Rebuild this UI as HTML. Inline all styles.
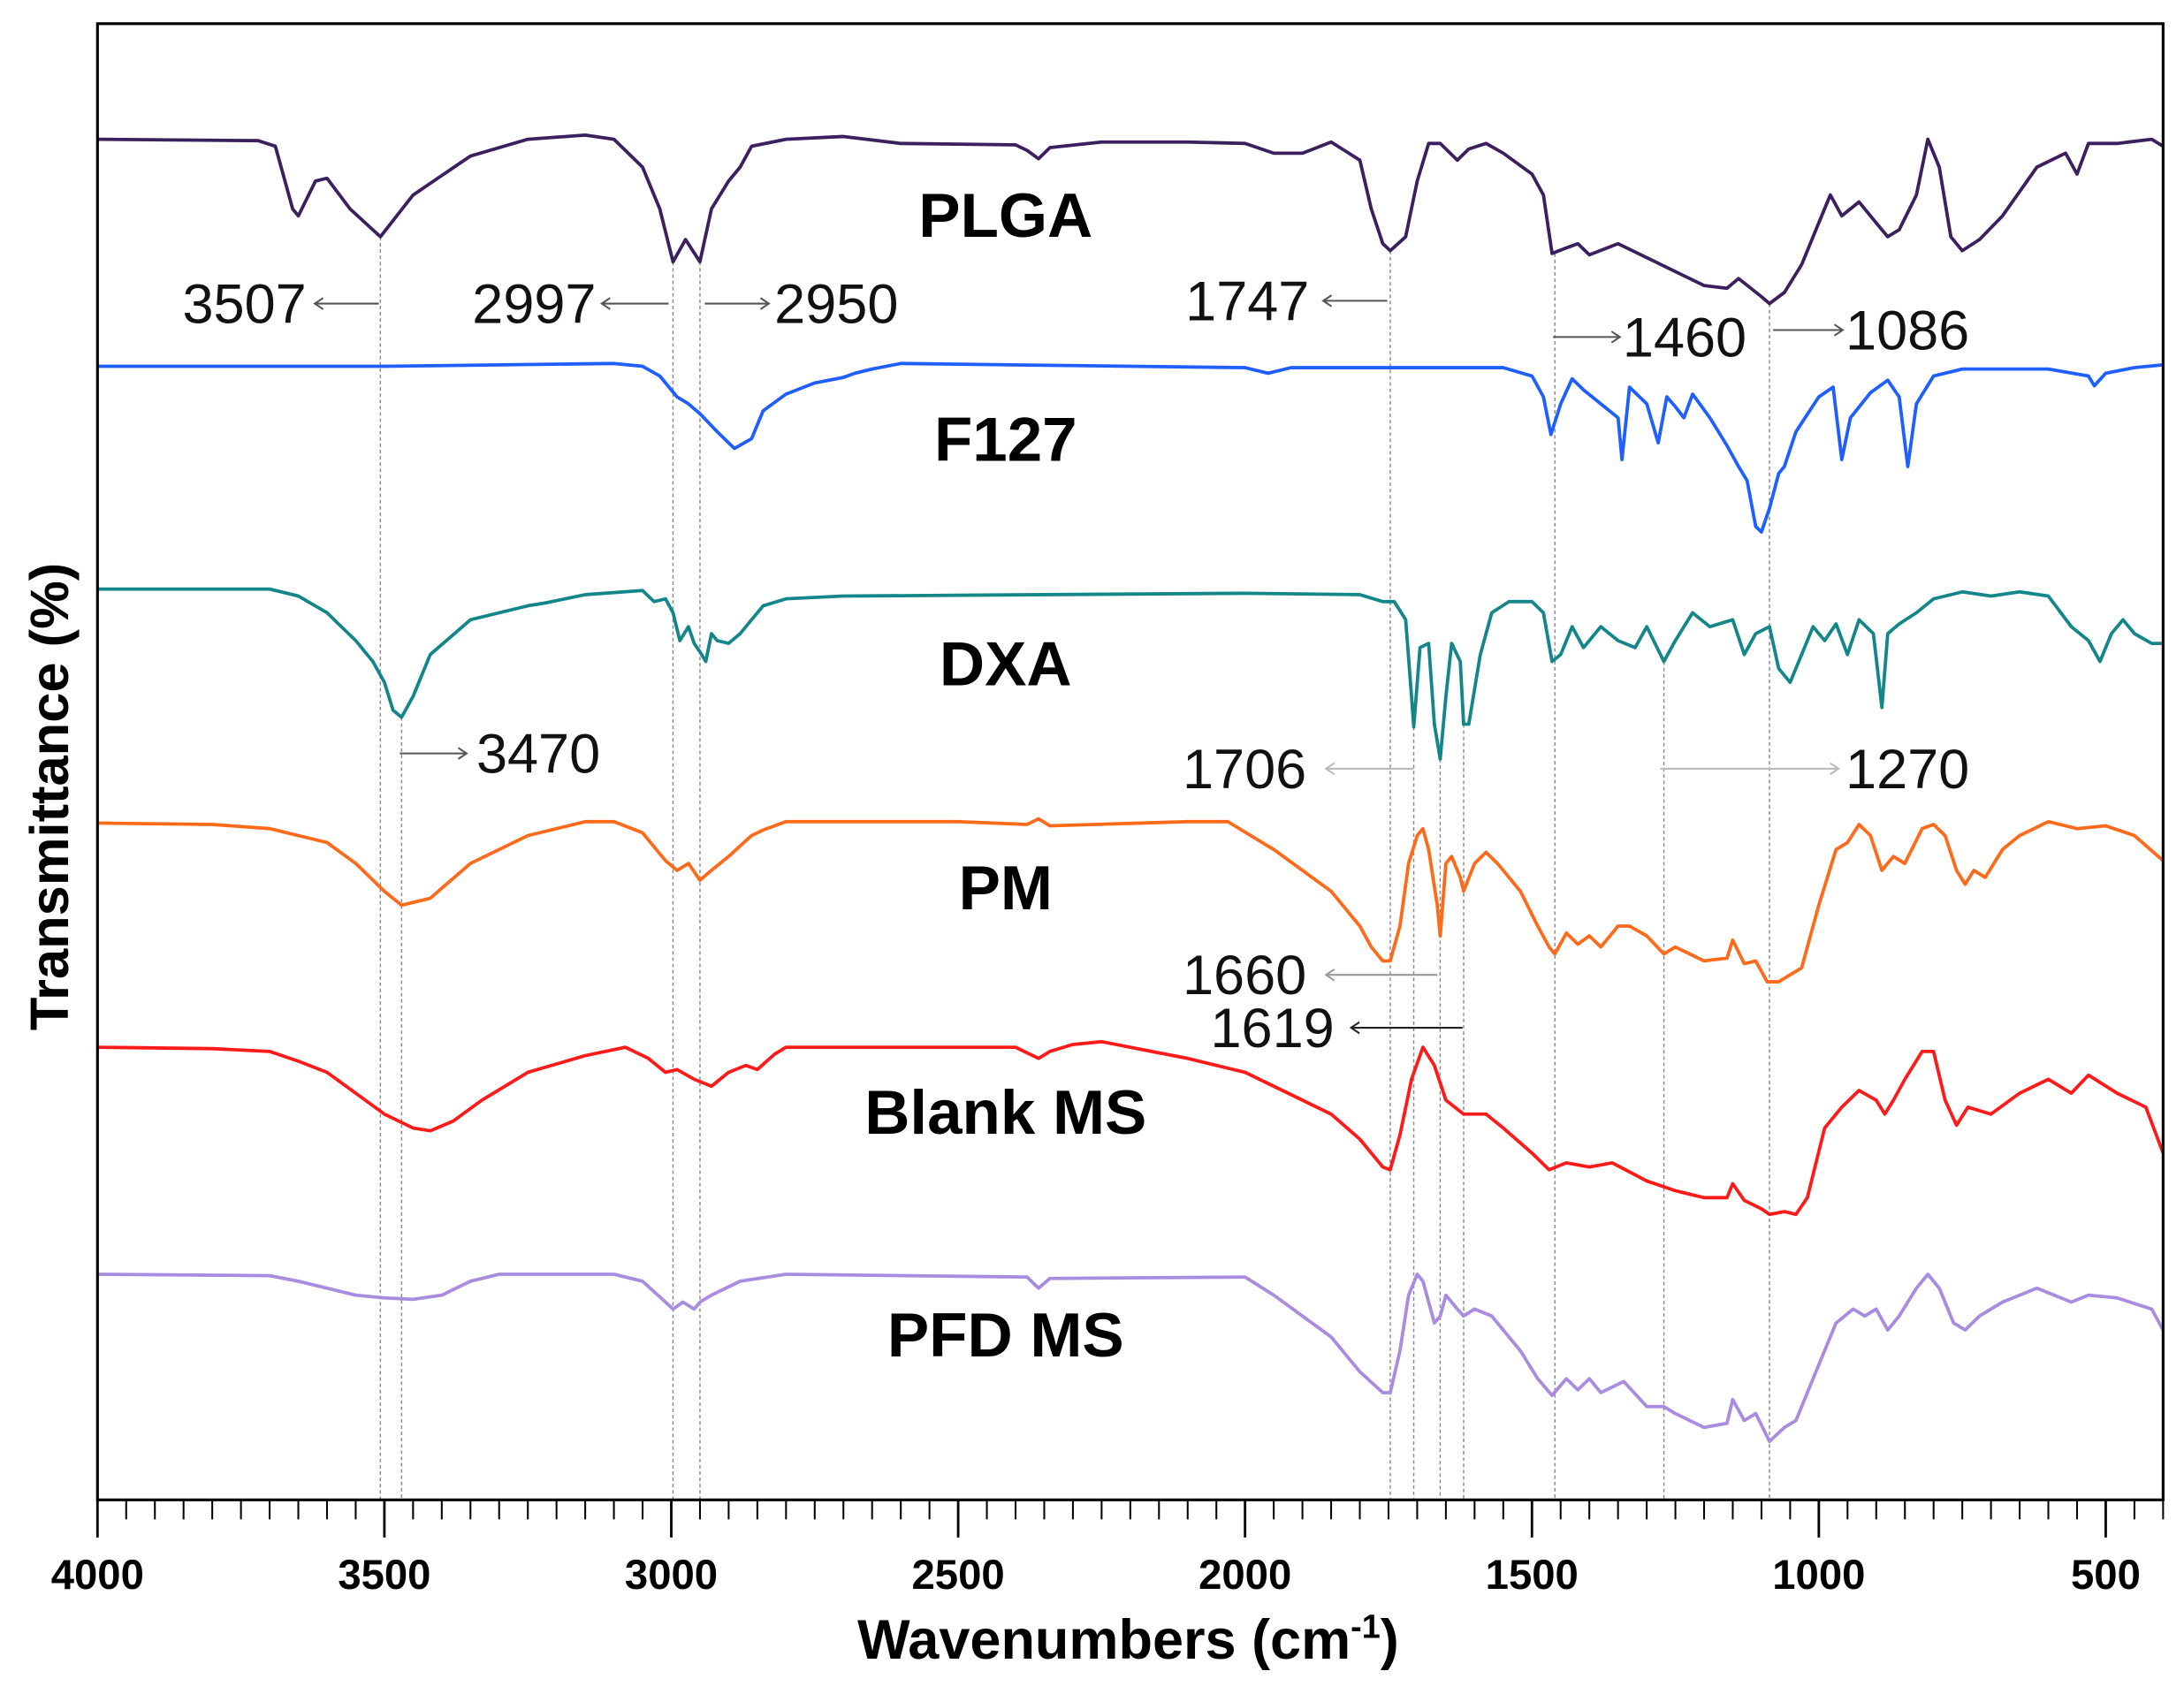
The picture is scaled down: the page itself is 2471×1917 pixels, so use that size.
<!DOCTYPE html>
<html><head><meta charset="utf-8"><style>
html,body{margin:0;padding:0;background:#fff}
svg{display:block}
text{font-family:"Liberation Sans",Arial,sans-serif}
</style></head><body>
<svg id="chart" width="2471" height="1917" viewBox="0 0 1568 1216.4" preserveAspectRatio="none" xmlns="http://www.w3.org/2000/svg">
<g id="marks"></g>
</svg>
<script>
const seriesNames = ["PLGA","F127","DXA","PM","Blank MS","PFD MS"];
const seriesColors = ["#3b1f5e","#1f5fff","#13868a","#ff6a1a","#ff1a1a","#a98be0"];
const plgaWn = [4000,3720,3690,3660,3650,3620,3600,3560,3507,3450,3350,3250,3150,3100,3050,3020,2997,2975,2950,2930,2900,2880,2860,2800,2700,2600,2400,2380,2360,2340,2250,2100,2000,1950,1900,1850,1800,1780,1760,1747,1720,1700,1680,1660,1630,1610,1580,1550,1500,1480,1465,1440,1420,1400,1350,1300,1250,1200,1160,1140,1100,1086,1060,1030,1000,980,960,930,900,880,860,830,810,790,770,750,720,680,620,570,550,530,480,420,400];
const plgaT = [977,976,972,927,922,947,949,927,907,937,965,977,980,977,957,927,889,905,889,927,947,957,972,977,979,974,973,969,963,971,975,975,974,967,967,975,962,927,902,897,907,947,974,974,962,970,974,967,952,937,895,899,902,894,902,892,882,872,870,877,864,859,867,887,917,937,922,932,917,907,912,937,977,957,907,897,905,922,957,967,952,974,974,977,972];
const f127Wn = [4000,3500,3100,3050,3020,2990,2970,2950,2920,2890,2860,2840,2800,2750,2700,2680,2650,2600,2000,1960,1920,1550,1500,1480,1467,1450,1430,1410,1380,1350,1343,1330,1300,1280,1265,1250,1235,1220,1190,1160,1140,1125,1110,1100,1086,1070,1060,1040,1000,975,960,945,910,880,860,845,830,800,750,600,530,520,500,450,400];
const f127T = [814,814,816,814,807,792,787,780,767,755,762,782,794,802,806,809,812,816,813,809,813,813,807,792,765,787,805,797,787,777,747,799,787,759,792,785,777,794,777,757,742,732,699,695,712,737,742,767,792,799,747,777,795,804,792,742,787,807,812,812,807,800,809,813,815];
const dxaWn = [4000,3700,3650,3600,3550,3520,3500,3485,3470,3450,3420,3350,3250,3220,3150,3050,3030,3010,2997,2985,2970,2960,2950,2940,2930,2920,2900,2880,2860,2840,2800,2700,2000,1800,1760,1740,1720,1710,1706,1695,1680,1670,1660,1650,1640,1625,1619,1610,1590,1570,1540,1500,1480,1465,1450,1430,1410,1380,1350,1320,1300,1270,1250,1220,1190,1150,1130,1110,1086,1070,1050,1030,1010,990,970,950,930,905,890,880,860,830,800,750,700,650,600,560,530,510,490,470,450,420,400];
const dxaT = [654,654,649,637,617,602,587,567,562,577,607,632,642,644,650,653,645,647,637,617,627,615,609,602,622,617,615,622,632,642,647,649,651,650,645,645,632,577,555,612,615,557,532,577,615,602,557,557,607,637,645,645,637,602,607,627,612,627,617,612,627,602,617,637,627,632,607,622,627,597,587,607,627,617,629,607,632,622,569,622,629,637,647,652,649,652,649,627,617,602,622,632,622,615,615];
const pmWn = [4000,3800,3700,3650,3600,3550,3500,3470,3420,3350,3250,3150,3100,3050,3010,2990,2970,2950,2930,2900,2860,2840,2800,2500,2380,2360,2340,2100,2030,1950,1850,1800,1780,1760,1747,1730,1715,1700,1690,1680,1665,1660,1650,1640,1625,1619,1600,1580,1560,1520,1490,1470,1460,1440,1420,1400,1380,1350,1330,1300,1270,1250,1200,1160,1150,1130,1110,1090,1070,1050,1030,1000,970,950,930,910,890,870,850,820,800,780,760,745,730,710,680,650,600,550,500,450,400];
const pmT = [486,485,482,477,472,457,437,427,432,457,477,487,487,479,459,452,457,445,452,462,477,481,487,487,485,489,484,487,487,467,437,412,397,387,387,412,457,477,482,467,427,405,457,462,447,437,457,465,457,437,412,397,392,407,399,405,397,412,412,405,392,397,387,389,402,385,387,372,372,377,382,427,467,472,485,477,452,462,457,482,485,477,452,442,452,447,467,477,487,482,484,477,459];
const blankWn = [4000,3800,3700,3650,3600,3550,3500,3450,3420,3380,3330,3250,3150,3080,3040,3010,2990,2960,2930,2900,2870,2850,2820,2800,2400,2360,2340,2300,2250,2100,2000,1900,1850,1800,1760,1747,1730,1710,1690,1670,1650,1619,1580,1550,1500,1470,1440,1400,1360,1300,1250,1200,1160,1150,1130,1100,1086,1060,1040,1020,990,960,930,900,885,870,850,820,800,780,760,740,700,650,600,560,530,480,430,400];
const blankT = [325,324,322,315,307,292,277,267,265,272,287,307,319,325,317,307,309,302,297,307,312,309,320,325,325,317,322,327,329,317,307,287,277,259,239,237,262,302,325,312,287,277,277,267,249,237,242,239,242,229,222,217,217,227,215,209,205,207,205,217,267,282,294,287,277,287,302,322,322,287,269,282,277,292,302,292,305,292,282,249];
const pfdWn = [4000,3700,3650,3600,3550,3500,3450,3400,3350,3300,3100,3050,3010,2997,2980,2960,2950,2930,2880,2800,2380,2360,2340,2000,1950,1850,1800,1760,1747,1730,1715,1700,1690,1670,1660,1650,1630,1619,1600,1570,1520,1490,1465,1440,1420,1400,1380,1340,1300,1270,1250,1200,1160,1150,1130,1110,1086,1060,1040,1000,970,940,920,900,880,860,830,810,790,765,745,720,680,620,560,530,480,420,400];
const pfdT = [162,161,157,152,147,145,144,147,157,162,162,157,142,137,142,137,142,147,157,162,160,152,159,160,147,117,92,77,77,107,147,162,157,127,132,147,137,132,137,132,107,87,75,87,79,87,77,85,67,67,62,52,55,72,57,62,42,52,57,97,127,137,132,137,122,132,152,162,152,127,122,132,142,152,142,147,145,137,122];
const xTickLabels = ["4000","3500","3000","2500","2000","1500","1000","500"];
const markerWn = [3507,3470,2997,2950,1747,1706,1660,1619,1460,1270,1086];
const markerT = [907,562,889,889,897,555,532,557,895,602,859];

const NS="http://www.w3.org/2000/svg";
const L=70,R=1553,T=17,B=1077;
const wMax=4000,wMin=400;
function xs(w){return L+(wMax-w)/(wMax-wMin)*(R-L);}
function ys(v){return B-v/1060*(B-T);}
const g=document.getElementById('marks');
function mk(tag,attrs,parent){const e=document.createElementNS(NS,tag);for(const k in attrs)e.setAttribute(k,attrs[k]);(parent||g).appendChild(e);return e;}

markerWn.forEach((w,i)=>{
  const e=mk('line',{x1:xs(w),x2:xs(w),y1:ys(markerT[i]),y2:B,stroke:'#888','stroke-width':0.9,'stroke-dasharray':'2.5,2'});
  
  
});

const wnArr=[plgaWn,f127Wn,dxaWn,pmWn,blankWn,pfdWn];
const tArr=[plgaT,f127T,dxaT,pmT,blankT,pfdT];
wnArr.forEach((wn,s)=>{
  const d=wn.map((w,i)=>(i?'L':'M')+xs(w).toFixed(1)+','+ys(tArr[s][i]).toFixed(1)).join('');
  const p=mk('path',{d:d,fill:'none',stroke:seriesColors[s],'stroke-width':2.4,'stroke-linejoin':'round'});
  
  
});

const labelY=[170,331,492,653,814,974];
seriesNames.forEach((n,i)=>{
  const t=mk('text',{x:722,y:labelY[i],'text-anchor':'middle','font-size':45,'font-weight':'bold',fill:'#000'});
  t.textContent=n;
  
  
});

const fr=mk('rect',{x:L,y:T,width:R-L,height:B-T,fill:'none',stroke:'#000','stroke-width':2});



for(let w=4000;w>=400;w-=50){
  const major=w%500===0;
  const t=mk('line',{x1:xs(w),x2:xs(w),y1:B,y2:B+(major?27:14),stroke:'#000','stroke-width':major?1.8:1.3});
  
  
}
xTickLabels.forEach(s=>{
  const t=mk('text',{x:xs(+s),y:1141,'text-anchor':'middle','font-size':30,'font-weight':'bold',fill:'#000'});
  t.textContent=s;
  
  
});

const ann=[
 {txt:'3507',x1:272,x2:226,y:218,tx:220,anchor:'end',c:'#555'},
 {txt:'2997',x1:480,x2:432,y:218,tx:428,anchor:'end',c:'#555'},
 {txt:'2950',x1:506,x2:552,y:218,tx:556,anchor:'start',c:'#555'},
 {txt:'1747',x1:996,x2:950,y:216,tx:940,anchor:'end',c:'#555'},
 {txt:'1460',x1:1115,x2:1163,y:242,tx:1165,anchor:'start',c:'#555'},
 {txt:'1086',x1:1273,x2:1323,y:237,tx:1325,anchor:'start',c:'#555'},
 {txt:'3470',x1:287,x2:335,y:541,tx:342,anchor:'start',c:'#555'},
 {txt:'1706',x1:1015,x2:952,y:552,tx:938,anchor:'end',c:'#bbb'},
 {txt:'1270',x1:1192,x2:1320,y:552,tx:1325,anchor:'start',c:'#bbb'},
 {txt:'1660',x1:1032,x2:952,y:700,tx:938,anchor:'end',c:'#999'},
 {txt:'1619',x1:1050,x2:970,y:738,tx:958,anchor:'end',c:'#222'}
];
ann.forEach(a=>{
  const l=mk('line',{x1:a.x1,x2:a.x2,y1:a.y,y2:a.y,stroke:a.c,'stroke-width':1.3});
  
  
  const dir=a.x2<a.x1?1:-1;
  const h=mk('path',{d:`M${a.x2+dir*6},${a.y-4}L${a.x2},${a.y}L${a.x2+dir*6},${a.y+4}`,fill:'none',stroke:a.c,'stroke-width':1.3});
  
  
  const t=mk('text',{x:a.tx,y:a.y+14,'text-anchor':a.anchor,'font-size':40,fill:'#111'});
  t.textContent=a.txt;
  
  
});

const xt=mk('text',{x:810,y:1191,'text-anchor':'middle','font-size':40,'font-weight':'bold',fill:'#000'});
xt.innerHTML='Wavenumbers (cm<tspan dy="-15" font-size="24">-1</tspan><tspan dy="15">)</tspan>';


const yt=mk('text',{x:0,y:0,'text-anchor':'middle','font-size':39,'font-weight':'bold',fill:'#000',transform:'translate(49,572) rotate(-90)'});
yt.textContent='Transmittance (%)';


</script>
</body></html>
